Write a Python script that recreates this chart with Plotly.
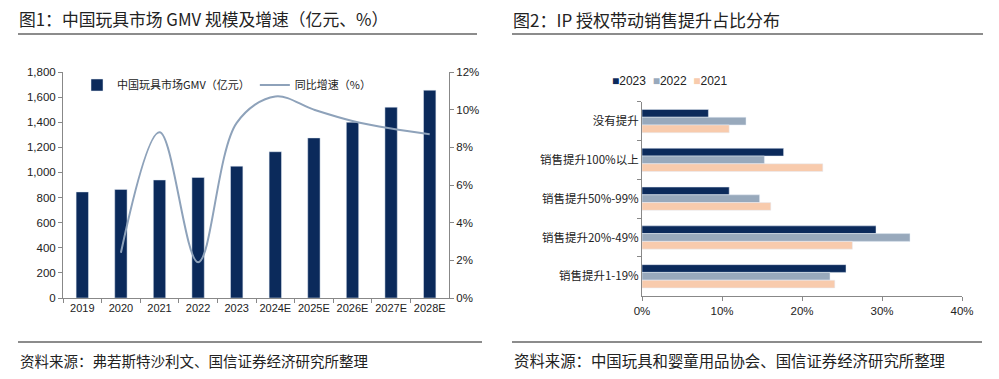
import plotly.graph_objects as go

# ---------------- data ----------------
years = ["2019", "2020", "2021", "2022", "2023", "2024E", "2025E", "2026E", "2027E", "2028E"]
gmv = [845, 865, 940, 960, 1050, 1165, 1275, 1400, 1520, 1655]
growth = [None, 0.024, 0.088, 0.019, 0.093, 0.107, 0.100, 0.094, 0.090, 0.087]

cats2 = ["没有提升", "销售提升100%以上", "销售提升50%-99%", "销售提升20%-49%", "销售提升1-19%"]
series_names = ["2023", "2022", "2021"]
v2023 = [0.083, 0.177, 0.109, 0.2925, 0.255]
v2022 = [0.130, 0.153, 0.147, 0.335, 0.235]
v2021 = [0.109, 0.226, 0.161, 0.263, 0.241]

W, H = 999, 379
def px(x): return x / W
def py(y): return 1 - y / H

NAVY = "#0B2A5B"
LINEC = "#8EA2BA"
GREY = "#98A9BC"
PEACH = "#F8CBAD"
TXT = "#222222"
FONT = "Liberation Sans, Arial, Noto Sans CJK SC, sans-serif"
CJK = "Noto Sans CJK SC, sans-serif"

fig = go.Figure()

fig.add_trace(go.Bar(x=years, y=gmv, name="中国玩具市场GMV（亿元）", marker_color=NAVY,
                     width=0.32, xaxis="x", yaxis="y", legend="legend"))
fig.add_trace(go.Scatter(x=years, y=growth, name="同比增速（%）", mode="lines",
                         line=dict(color=LINEC, width=2, shape="spline", smoothing=1.0),
                         xaxis="x", yaxis="y2", legend="legend"))

colors2 = [NAVY, GREY, PEACH]
for name, vals, col in zip(series_names, [v2023, v2022, v2021], colors2):
    fig.add_trace(go.Bar(y=cats2, x=vals, name=name, orientation="h", marker_color=col,
                         xaxis="x3", yaxis="y3", showlegend=False))

axis_common = dict(showline=True, linecolor="#888888", linewidth=1, ticks="outside",
                   tickcolor="#888888", ticklen=4, showgrid=False, zeroline=False,
                   automargin=False, tickangle=0,
                   tickfont=dict(family=FONT, size=11.5, color=TXT))

fig.update_layout(
    width=W, height=H,
    margin=dict(l=0, r=0, t=0, b=0),
    paper_bgcolor="white", plot_bgcolor="white",
    barmode="group", bargap=0.4,
    showlegend=True,
    xaxis=dict(domain=[px(63), px(449)], type="category", tickson="boundaries",
               anchor="y", **{**axis_common, "tickfont": dict(family=FONT, size=11, color=TXT)}),
    yaxis=dict(domain=[py(298), py(72)], range=[0, 1800], dtick=200, tickformat=",",
               anchor="x", **axis_common),
    yaxis2=dict(overlaying="y", side="right", range=[0, 0.12], dtick=0.02,
                tickformat=".0%", anchor="x", **axis_common),
    xaxis3=dict(domain=[px(642), px(962)], range=[0, 0.4], dtick=0.1, tickformat=".0%",
                anchor="y3", **axis_common),
    yaxis3=dict(domain=[py(295.7), py(101.7)], type="category", autorange="reversed",
                tickson="boundaries", anchor="x3", **{**axis_common,
                "tickfont": dict(family=CJK, size=11.5, color=TXT)}),
    legend=dict(orientation="h", x=px(77), y=py(85), xanchor="left", yanchor="middle",
                font=dict(family=CJK, size=11, color=TXT), bgcolor="rgba(0,0,0,0)",
                itemwidth=30, tracegroupgap=0),
)

# legend of chart 2 as coloured squares + text
leg2 = "  ".join(f"<span style='color:{c}'>■</span>{n}" for n, c in zip(series_names, colors2))
fig.add_annotation(text=leg2, x=px(610), y=py(81), xref="paper", yref="paper",
                   xanchor="left", yanchor="middle", showarrow=False,
                   font=dict(family=FONT, size=12, color=TXT))

# titles, rules and source notes
fig.add_annotation(text="图1：中国玩具市场 GMV 规模及增速（亿元、%）", x=px(17), y=py(19),
                   xref="paper", yref="paper", xanchor="left", yanchor="middle",
                   showarrow=False, font=dict(family=CJK, size=16.8, color=TXT))
fig.add_annotation(text="图2：IP 授权带动销售提升占比分布", x=px(511), y=py(19),
                   xref="paper", yref="paper", xanchor="left", yanchor="middle",
                   showarrow=False, font=dict(family=CJK, size=17, color=TXT))
fig.add_annotation(text="资料来源：弗若斯特沙利文、国信证券经济研究所整理", x=px(18), y=py(360),
                   xref="paper", yref="paper", xanchor="left", yanchor="middle",
                   showarrow=False, font=dict(family=CJK, size=14.5, color=TXT))
fig.add_annotation(text="资料来源：中国玩具和婴童用品协会、国信证券经济研究所整理", x=px(512), y=py(360),
                   xref="paper", yref="paper", xanchor="left", yanchor="middle",
                   showarrow=False, font=dict(family=CJK, size=15.4, color=TXT))

for x0, x1, y in [(18, 477, 34), (512, 983, 34), (18, 482, 342), (512, 982, 342)]:
    fig.add_shape(type="line", xref="paper", yref="paper", x0=px(x0), x1=px(x1),
                  y0=py(y), y1=py(y), line=dict(color="#666666", width=1.5))

fig.write_html("out.html", config={"displayModeBar": False},
               post_script="document.body.style.margin='0';")
